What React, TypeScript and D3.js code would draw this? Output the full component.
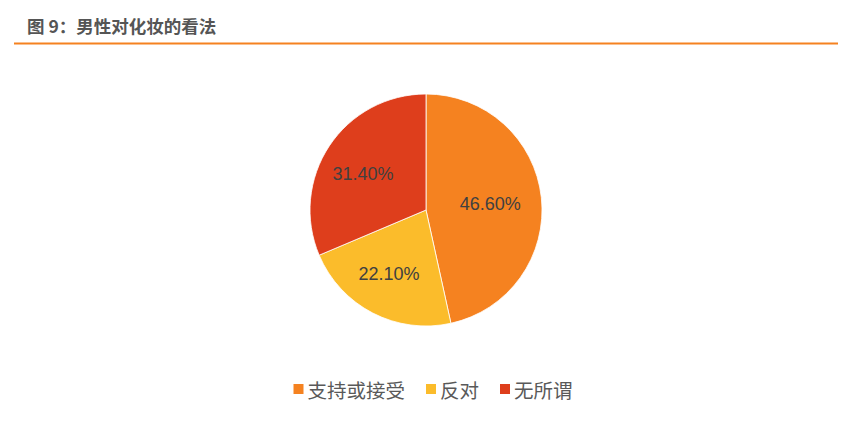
import { useEffect, useRef } from "react";
import * as d3 from "d3";

const categories = ["支持或接受", "反对", "无所谓"];
const values = [46.6, 22.1, 31.4];
const colors = ["#F58220", "#FBBC2B", "#DE3E1C"];
const title = "图 9：男性对化妆的看法";

const width = 866,
  height = 424;

function App() {
  const svgRef = useRef(null);

  useEffect(() => {
    const svg = d3.select(svgRef.current);
    svg.selectAll("*").remove();
    svg.attr("width", width).attr("height", height);

    svg
      .append("rect")
      .attr("width", width)
      .attr("height", height)
      .attr("fill", "#ffffff");

    // title and rule under it
    svg
      .append("text")
      .attr("x", 27)
      .attr("y", 33)
      .attr("font-family", "'Noto Sans CJK SC', 'Liberation Sans', sans-serif")
      .attr("font-size", 17.5)
      .attr("font-weight", "bold")
      .attr("fill", "#555555")
      .text(title);

    svg
      .append("line")
      .attr("x1", 14)
      .attr("x2", 838)
      .attr("y1", 43.5)
      .attr("y2", 43.5)
      .attr("stroke", "#F58220")
      .attr("stroke-width", 2);

    const cx = 426,
      cy = 210,
      r = 116;

    const pie = d3
      .pie<number>()
      .sort(null)
      .value((d) => d);
    const arcs = pie(values);
    const arc = d3.arc<d3.PieArcDatum<number>>().innerRadius(0).outerRadius(r);
    const labelArc = d3
      .arc<d3.PieArcDatum<number>>()
      .innerRadius(r * 0.6)
      .outerRadius(r * 0.6);

    const g = svg.append("g").attr("transform", `translate(${cx},${cy})`);

    g.selectAll("path")
      .data(arcs)
      .enter()
      .append("path")
      .attr("d", arc)
      .attr("fill", (d, i) => colors[i])
      .attr("stroke", "#ffffff")
      .attr("stroke-width", 0.8);

    g.selectAll("text")
      .data(arcs)
      .enter()
      .append("text")
      .attr("transform", (d) => {
        const [x, y] = labelArc.centroid(d);
        return `translate(${x - 5},${y + 2})`;
      })
      .attr("text-anchor", "middle")
      .attr("dominant-baseline", "central")
      .attr("font-family", "'Liberation Sans', Arial, sans-serif")
      .attr("font-size", 18)
      .attr("fill", "#404040")
      .text((d) => d.data.toFixed(2) + "%");

    // legend
    const legend = svg.append("g");
    const legendY = 389;
    const fontSize = 19.5;
    const gap = 21;
    const sq = 10;
    const itemW = categories.map((c) => sq + 4 + c.length * fontSize);
    const total = d3.sum(itemW) + gap * (categories.length - 1);
    let x0 = width / 2 - total / 2;
    categories.forEach((c, i) => {
      legend
        .append("rect")
        .attr("x", x0)
        .attr("y", legendY - sq / 2)
        .attr("width", sq)
        .attr("height", sq)
        .attr("fill", colors[i]);
      legend
        .append("text")
        .attr("x", x0 + sq + 4)
        .attr("y", legendY)
        .attr("dominant-baseline", "central")
        .attr("font-family", "'Noto Sans CJK SC', sans-serif")
        .attr("font-size", fontSize)
        .attr("fill", "#595959")
        .text(c);
      x0 += itemW[i] + gap;
    });
  }, []);

  return (
    <div style={{ position: "absolute", left: 0, top: 0 }}>
      <svg ref={svgRef} style={{ display: "block" }}></svg>
    </div>
  );
}

export default App;
